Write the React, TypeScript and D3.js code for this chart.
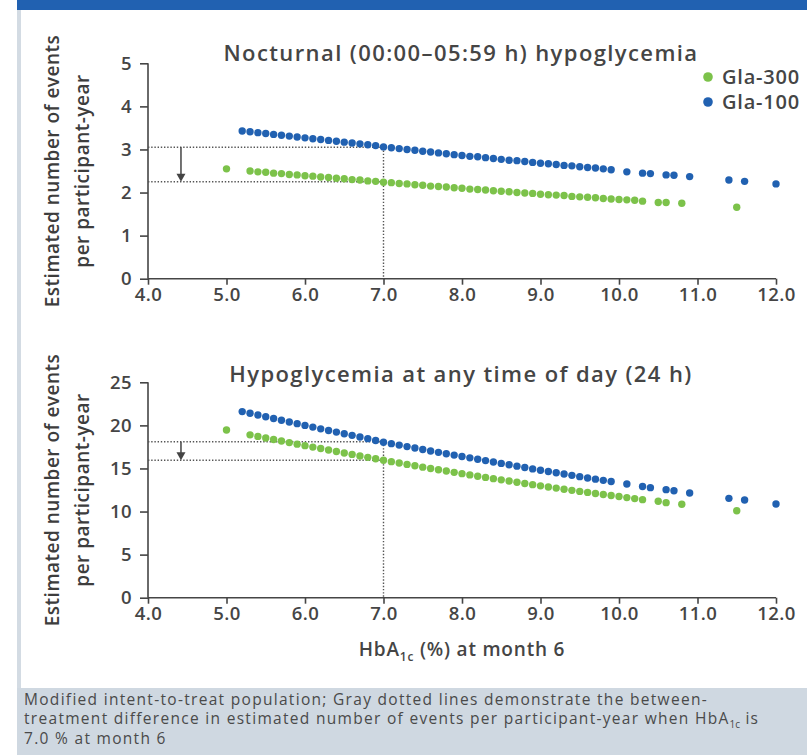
import React, { useEffect, useRef } from 'react';
import * as d3 from 'd3';

// HbA1c (%) at month 6 for each plotted point
const gla100Hba1c = [
  5.2, 5.3, 5.4, 5.5, 5.6, 5.7, 5.8, 5.9, 6.0, 6.1, 6.2, 6.3, 6.4, 6.5, 6.6, 6.7,
  6.8, 6.9, 7.0, 7.1, 7.2, 7.3, 7.4, 7.5, 7.6, 7.7, 7.8, 7.9, 8.0, 8.1, 8.2, 8.3,
  8.4, 8.5, 8.6, 8.7, 8.8, 8.9, 9.0, 9.1, 9.2, 9.3, 9.4, 9.5, 9.6, 9.7, 9.8, 9.9,
  10.1, 10.3, 10.4, 10.6, 10.7, 10.9, 11.4, 11.6, 12.0,
];
const gla300Hba1c = [
  5.0, 5.3, 5.4, 5.5, 5.6, 5.7, 5.8, 5.9, 6.0, 6.1, 6.2, 6.3, 6.4, 6.5, 6.6, 6.7,
  6.8, 6.9, 7.0, 7.1, 7.2, 7.3, 7.4, 7.5, 7.6, 7.7, 7.8, 7.9, 8.0, 8.1, 8.2, 8.3,
  8.4, 8.5, 8.6, 8.7, 8.8, 8.9, 9.0, 9.1, 9.2, 9.3, 9.4, 9.5, 9.6, 9.7, 9.8, 9.9,
  10.0, 10.1, 10.2, 10.3, 10.5, 10.6, 10.8, 11.5,
];

// nocturnal events per participant-year
const nightGla100 = [
  3.43, 3.41, 3.39, 3.37, 3.35, 3.33, 3.31, 3.29, 3.27, 3.25, 3.23, 3.21, 3.19, 3.17, 3.15, 3.13,
  3.11, 3.09, 3.06, 3.04, 3.02, 3.0, 2.98, 2.96, 2.94, 2.92, 2.9, 2.88, 2.86, 2.84, 2.83, 2.81,
  2.79, 2.77, 2.75, 2.74, 2.72, 2.7, 2.68, 2.67, 2.65, 2.63, 2.62, 2.6, 2.58, 2.57, 2.55, 2.53,
  2.48, 2.45, 2.44, 2.41, 2.4, 2.37, 2.29, 2.26, 2.2,
];
const nightGla300 = [
  2.55, 2.5, 2.48, 2.47, 2.45, 2.44, 2.42, 2.41, 2.39, 2.38, 2.36, 2.35, 2.33, 2.32, 2.3, 2.29,
  2.27, 2.26, 2.24, 2.23, 2.21, 2.2, 2.18, 2.17, 2.15, 2.14, 2.13, 2.11, 2.1, 2.08, 2.07, 2.06,
  2.04, 2.03, 2.02, 2.0, 1.99, 1.98, 1.96, 1.95, 1.94, 1.93, 1.91, 1.9, 1.89, 1.88, 1.86, 1.85,
  1.84, 1.83, 1.82, 1.8, 1.77, 1.77, 1.75, 1.66,
];

// any time of day events per participant-year
const anyGla100 = [
  21.6, 21.4, 21.2, 21.0, 20.8, 20.6, 20.4, 20.2, 20.0, 19.8, 19.6, 19.41, 19.22, 19.03, 18.84, 18.65,
  18.46, 18.25, 18.05, 17.88, 17.71, 17.54, 17.37, 17.2, 17.03, 16.87, 16.71, 16.55, 16.39, 16.23, 16.07, 15.91,
  15.75, 15.59, 15.43, 15.27, 15.11, 14.95, 14.8, 14.65, 14.5, 14.35, 14.2, 14.05, 13.9, 13.76, 13.62, 13.48,
  13.2, 12.9, 12.77, 12.54, 12.42, 12.15, 11.53, 11.34, 10.87,
];
const anyGla300 = [
  19.46, 18.9, 18.72, 18.54, 18.36, 18.18, 18.0, 17.82, 17.65, 17.48, 17.31, 17.14, 16.97, 16.8, 16.63, 16.46,
  16.29, 16.12, 15.95, 15.79, 15.63, 15.47, 15.31, 15.15, 15.0, 14.85, 14.7, 14.55, 14.4, 14.25, 14.1, 13.96,
  13.82, 13.68, 13.54, 13.4, 13.26, 13.12, 12.98, 12.85, 12.72, 12.59, 12.46, 12.34, 12.22, 12.1, 11.98, 11.86,
  11.74, 11.62, 11.5, 11.38, 11.19, 11.03, 10.84, 10.1,
];

const xTicks = [4, 5, 6, 7, 8, 9, 10, 11, 12];
const nightTicks = [0, 1, 2, 3, 4, 5];
const anyTicks = [0, 5, 10, 15, 20, 25];
const refHba1c = 7.0;
const arrowHba1c = 4.42;
const nightRef = [3.05, 2.25];
const anyRef = [18.1, 15.95];

const seriesNames = ['Gla-300', 'Gla-100'];

const BLUE = '#2161b1';
const GREEN = '#7cc24a';
const INK = '#454545';
const FONT = "'Open Sans', sans-serif";

export default function App() {
  const ref = useRef<SVGSVGElement | null>(null);

  useEffect(() => {
    if (!ref.current) return;
    const svg = d3.select(ref.current);
    svg.selectAll('*').remove();

    // frame
    svg.append('rect').attr('x', 17).attr('y', 0).attr('width', 790).attr('height', 10).attr('fill', BLUE);
    svg.append('rect').attr('x', 17).attr('y', 10).attr('width', 4).attr('height', 678).attr('fill', '#d3dbe3');
    svg.append('rect').attr('x', 17).attr('y', 688).attr('width', 790).attr('height', 67).attr('fill', '#cfd8e1');

    const x = d3.scaleLinear().domain([4, 12]).range([148, 776]);

    const panels = [
      {
        title: 'Nocturnal (00:00\u201305:59 h) hypoglycemia',
        ticks: nightTicks,
        y: d3.scaleLinear().domain([0, 5]).range([278.7, 63.3]),
        g100: nightGla100,
        g300: nightGla300,
        refs: nightRef,
        titleY: 61,
      },
      {
        title: 'Hypoglycemia at any time of day (24 h)',
        ticks: anyTicks,
        y: d3.scaleLinear().domain([0, 25]).range([597.7, 382.3]),
        g100: anyGla100,
        g300: anyGla300,
        refs: anyRef,
        titleY: 382,
      },
    ];

    panels.forEach((p) => {
      const g = svg.append('g');
      const y = p.y;
      const y0 = y(0);

      // axes
      const yAxis = g.append('g').attr('transform', 'translate(148,0)').call(
        d3.axisLeft(y).tickValues(p.ticks).tickSize(8).tickPadding(8).tickFormat(d3.format('d')),
      );
      const xAxis = g.append('g').attr('transform', `translate(0,${y0})`).call(
        d3.axisBottom(x).tickValues(xTicks).tickSize(6).tickPadding(3).tickFormat(d3.format('.1f')),
      );
      [yAxis, xAxis].forEach((a) => {
        a.select('.domain').attr('stroke', INK).attr('stroke-width', 1.6);
        a.selectAll('.tick line').attr('stroke', INK).attr('stroke-width', 1.6);
        a.selectAll('.tick text')
          .attr('fill', INK)
          .style('font-family', FONT)
          .style('font-size', '18.5px')
          .style('font-weight', 600)
          .style('letter-spacing', '0.4px');
      });
      yAxis.select('.domain').attr('d', `M0,${y0}V${y(p.ticks[p.ticks.length - 1])}`);
      xAxis.select('.domain').attr('d', `M${x(4)},0H${x(12)}`);

      // title
      g.append('text')
        .attr('x', 461)
        .attr('y', p.titleY)
        .attr('text-anchor', 'middle')
        .attr('fill', INK)
        .style('font-family', FONT)
        .style('font-size', '22px')
        .style('font-weight', 600)
        .style('letter-spacing', '1.4px')
        .text(p.title);

      // y label
      const cy = (y0 + y(p.ticks[p.ticks.length - 1])) / 2;
      ['Estimated number of events', 'per participant-year'].forEach((t, i) => {
        g.append('text')
          .attr('transform', `translate(${52 + i * 30},${cy}) rotate(-90)`)
          .attr('text-anchor', 'middle')
          .attr('dominant-baseline', 'central')
          .attr('fill', '#3d3d3d')
          .style('font-family', FONT)
          .style('font-size', '19px')
          .style('font-weight', 600)
          .style('letter-spacing', '0.5px')
          .text(t);
      });

      // reference lines
      const dots = { stroke: '#555', 'stroke-width': 1.4, 'stroke-dasharray': '1.4,1.8' };
      p.refs.forEach((v) => {
        const l = g.append('line').attr('x1', x(4)).attr('x2', x(refHba1c)).attr('y1', y(v)).attr('y2', y(v));
        Object.entries(dots).forEach(([k, val]) => l.attr(k, val));
      });
      const vl = g.append('line')
        .attr('x1', x(refHba1c)).attr('x2', x(refHba1c))
        .attr('y1', y(p.refs[0])).attr('y2', y0);
      Object.entries(dots).forEach(([k, val]) => vl.attr(k, val));

      // arrow
      const ax = x(arrowHba1c);
      g.append('line')
        .attr('x1', ax).attr('x2', ax)
        .attr('y1', y(p.refs[0])).attr('y2', y(p.refs[1]) - 6)
        .attr('stroke', '#444').attr('stroke-width', 1.5);
      g.append('path')
        .attr('d', `M${ax - 4.5},${y(p.refs[1]) - 8}L${ax + 4.5},${y(p.refs[1]) - 8}L${ax},${y(p.refs[1])}Z`)
        .attr('fill', '#444');

      // points
      g.append('g').selectAll('circle')
        .data(p.g100)
        .join('circle')
        .attr('cx', (_, i) => x(gla100Hba1c[i]))
        .attr('cy', (d) => y(d))
        .attr('r', 3.7)
        .attr('fill', BLUE);
      g.append('g').selectAll('circle')
        .data(p.g300)
        .join('circle')
        .attr('cx', (_, i) => x(gla300Hba1c[i]))
        .attr('cy', (d) => y(d))
        .attr('r', 3.7)
        .attr('fill', GREEN);
    });

    // legend
    const leg = svg.append('g');
    seriesNames.forEach((n, i) => {
      leg.append('circle').attr('cx', 708).attr('cy', 77 + i * 25).attr('r', 4.8).attr('fill', i === 0 ? GREEN : BLUE);
      leg.append('text')
        .attr('x', 722)
        .attr('y', 84 + i * 25)
        .attr('fill', INK)
        .style('font-family', FONT)
        .style('font-size', '20px')
        .style('font-weight', 600)
        .style('letter-spacing', '0.8px')
        .text(n);
    });

    // x label
    const xl = svg.append('text')
      .attr('x', 462)
      .attr('y', 656)
      .attr('text-anchor', 'middle')
      .attr('fill', INK)
      .style('font-family', FONT)
      .style('font-size', '19px')
      .style('font-weight', 600)
      .style('letter-spacing', '0.8px');
    xl.append('tspan').text('HbA');
    xl.append('tspan').attr('dy', 5).style('font-size', '12px').text('1c');
    xl.append('tspan').attr('dy', -5).text(' (%) at month 6');

    // footnote
    const foot = svg.append('text')
      .attr('fill', '#4a4a4a')
      .style('font-family', FONT)
      .style('font-size', '15.5px')
      .style('font-weight', 400)
      .style('letter-spacing', '1.3px');
    foot.append('tspan').attr('x', 24).attr('y', 705)
      .text('Modified intent-to-treat population; Gray dotted lines demonstrate the between-');
    const l2 = foot.append('tspan').attr('x', 24).attr('y', 724);
    l2.append('tspan').text('treatment difference in estimated number of events per participant-year when HbA');
    l2.append('tspan').attr('dy', 4).style('font-size', '10px').style('letter-spacing', '0px').text('1c');
    l2.append('tspan').attr('dy', -4).text(' is');
    foot.append('tspan').attr('x', 24).attr('y', 744).text('7.0 % at month 6');
  }, []);

  return (
    <svg
      ref={ref}
      width={807}
      height={755}
      style={{ position: 'absolute', left: 0, top: 0, background: '#fff' }}
    />
  );
}
